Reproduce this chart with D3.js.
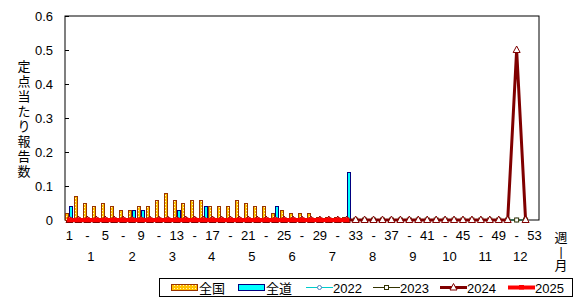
<!DOCTYPE html>
<html>
<head>
<meta charset="utf-8">
<script src="https://cdn.jsdelivr.net/npm/d3@7"></script>
<style>
  body { margin: 0; background: #fff; }
  text { font-family: "Liberation Sans", "Noto Sans CJK JP", sans-serif; font-size: 13px; fill: #000; }
</style>
</head>
<body>
<div id="chart"></div>
<script>
const weeks = d3.range(1, 54);
// 全国 (national) and 全道 (Hokkaido) per-sentinel reports, weeks 1-32 of 2025
const national = [0.02, 0.07, 0.05, 0.04, 0.05, 0.04, 0.03, 0.03, 0.04, 0.04, 0.06, 0.08, 0.06, 0.05, 0.06, 0.06,
  0.04, 0.04, 0.04, 0.06, 0.05, 0.04, 0.04, 0.02, 0.03, 0.02, 0.02, 0.02, 0.01, 0.01, 0.01, 0.01];
const hokkaido = [0.04, 0, 0, 0, 0, 0, 0, 0.03, 0.03, 0, 0, 0, 0.03, 0, 0, 0.04,
  0, 0, 0, 0, 0, 0, 0, 0.04, 0, 0, 0, 0, 0, 0, 0, 0.14];
const y2022 = [0, 0, 0, 0, 0, 0, 0, 0, 0, 0, 0, 0, 0, 0, 0, 0, 0, 0, 0, 0, 0, 0, 0, 0, 0, 0,
  0, 0, 0, 0, 0, 0, 0, 0, 0, 0, 0, 0, 0, 0, 0, 0, 0, 0, 0, 0, 0, 0, 0, 0, 0, 0];
const y2023 = [0, 0, 0, 0, 0, 0, 0, 0, 0, 0, 0, 0, 0, 0, 0, 0, 0, 0, 0, 0, 0, 0, 0, 0, 0, 0,
  0, 0, 0, 0, 0, 0, 0, 0, 0, 0, 0, 0, 0, 0, 0, 0, 0, 0, 0, 0, 0, 0, 0, 0, 0, 0];
const y2024 = [0, 0, 0, 0, 0, 0, 0, 0, 0, 0, 0, 0, 0, 0, 0, 0, 0, 0, 0, 0, 0, 0, 0, 0, 0, 0,
  0, 0, 0, 0, 0, 0, 0, 0, 0, 0, 0, 0, 0, 0, 0, 0, 0, 0, 0, 0, 0, 0, 0, 0, 0.5, 0];
const y2025 = [0, 0, 0, 0, 0, 0, 0, 0, 0, 0, 0, 0, 0, 0, 0, 0, 0, 0, 0, 0, 0, 0, 0, 0, 0, 0,
  0, 0, 0, 0, 0, 0];
const yTicks = [0, 0.1, 0.2, 0.3, 0.4, 0.5, 0.6];
const weekLabels = ["1", "-", "5", "-", "9", "-", "13", "-", "17", "-", "21", "-", "25", "-", "29", "-",
  "33", "-", "37", "-", "41", "-", "45", "-", "49", "-", "53"];
const months = ["1", "2", "3", "4", "5", "6", "7", "8", "9", "10", "11", "12"];
const monthPos = [3.4, 8.0, 12.5, 16.9, 21.4, 25.9, 30.4, 34.9, 39.4, 43.5, 47.5, 51.4];
const yLabel = "定点当たり報告数";

const W = 579, H = 299;
const m = { left: 65, right: 539, top: 16, bottom: 220 };

const svg = d3.select("#chart").append("svg").attr("width", W).attr("height", H);

const x = d3.scaleBand().domain(weeks).range([m.left, m.right]).padding(0);
const xc = w => x(w) + x.bandwidth() / 2;
const xw = d3.scaleLinear().domain([1, 53]).range([xc(1), xc(53)]);
const y = d3.scaleLinear().domain([0, 0.6]).range([m.bottom, m.top]);
const sub = d3.scaleBand().domain(["n", "h"]).range([0, x.bandwidth()]).paddingOuter(0.05).paddingInner(0);

// dotted pattern for 全国 bars
const defs = svg.append("defs");
const pat = defs.append("pattern").attr("id", "dots").attr("patternUnits", "userSpaceOnUse")
  .attr("width", 3).attr("height", 3);
pat.append("rect").attr("width", 3).attr("height", 3).attr("fill", "#FFC000").attr("shape-rendering", "crispEdges");
pat.append("rect").attr("width", 1).attr("height", 1).attr("fill", "#FFF4C8").attr("shape-rendering", "crispEdges");

// frame
svg.append("rect").attr("x", m.left).attr("y", m.top)
  .attr("width", m.right - m.left).attr("height", m.bottom - m.top)
  .attr("fill", "none").attr("stroke", "#000").attr("stroke-width", 1);

// y axis
const yAxis = svg.append("g").attr("transform", `translate(${m.left},0)`)
  .call(d3.axisLeft(y).tickValues(yTicks).tickSizeInner(-4).tickSizeOuter(0).tickPadding(12)
    .tickFormat(d => d === 0 ? "0" : d3.format(".1f")(d)));
yAxis.select(".domain").remove();
yAxis.selectAll("line").attr("stroke", "#000");
yAxis.selectAll("text").style("font-size", "13px").attr("font-family", null);

// bars
svg.append("g").attr("shape-rendering", "crispEdges").selectAll("rect")
  .data(national.map((v, i) => ({ w: i + 1, v })).filter(d => d.v > 0))
  .join("rect")
  .attr("x", d => Math.round(x(d.w) + sub("n")) + 0.5).attr("width", 3)
  .attr("y", d => Math.round(y(d.v)) + 0.5).attr("height", d => Math.round(y(0) - y(d.v)))
  .attr("fill", "url(#dots)").attr("stroke", "#993300").attr("stroke-width", 1);
svg.append("g").attr("shape-rendering", "crispEdges").selectAll("rect")
  .data(hokkaido.map((v, i) => ({ w: i + 1, v })).filter(d => d.v > 0))
  .join("rect")
  .attr("x", d => Math.round(x(d.w) + sub("h")) + 0.5).attr("width", 3)
  .attr("y", d => Math.round(y(d.v)) + 0.5).attr("height", d => Math.round(y(0) - y(d.v)))
  .attr("fill", "#00FFFF").attr("stroke", "#000080").attr("stroke-width", 1);

const line = d3.line().x((d, i) => xc(i + 1)).y(d => y(d));

function series(data, color, width, marker) {
  const g = svg.append("g");
  g.append("path").datum(data).attr("d", line)
    .attr("fill", "none").attr("stroke", color).attr("stroke-width", width);
  g.selectAll(".mk").data(data).join(marker.tag)
    .each(function (d, i) { marker.draw(d3.select(this), xc(i + 1), y(d)); });
}

const circleMk = { tag: "circle", draw: (s, cx, cy) => s.attr("cx", cx).attr("cy", cy).attr("r", 2)
  .attr("fill", "#fff").attr("stroke", "#4F81BD").attr("stroke-width", 1) };
const squareMk = { tag: "rect", draw: (s, cx, cy) => s.attr("x", cx - 2).attr("y", cy - 2)
  .attr("width", 4).attr("height", 4).attr("fill", "#fff").attr("stroke", "#333300").attr("stroke-width", 1) };
const triMk = { tag: "path", draw: (s, cx, cy) => s.attr("d", `M${cx},${cy - 4}L${cx + 3.5},${cy + 2.5}L${cx - 3.5},${cy + 2.5}Z`)
  .attr("fill", "#fff").attr("stroke", "#800000").attr("stroke-width", 1) };
const redMk = { tag: "rect", draw: (s, cx, cy) => s.attr("x", cx - 2.5).attr("y", cy - 2.5)
  .attr("width", 5).attr("height", 4.5).attr("fill", "#FF0000") };

series(y2022, "#00CCCC", 1, circleMk);
series(y2023, "#333300", 1, squareMk);
series(y2024, "#800000", 3, triMk);
series(y2025, "#FF0000", 4, redMk);

// x labels
svg.append("g").selectAll("text").data(weekLabels).join("text")
  .attr("x", (d, i) => xc(1 + i * 2)).attr("y", 240)
  .attr("text-anchor", "middle").text(d => d);
svg.append("g").selectAll("text").data(months).join("text")
  .attr("x", (d, i) => xw(monthPos[i])).attr("y", 261)
  .attr("text-anchor", "middle").text(d => d);
svg.append("text").attr("x", 561).attr("y", 242).attr("text-anchor", "middle").text("週");
svg.append("text").attr("x", 561).attr("y", 256).attr("text-anchor", "middle").text("|").style("font-size", "12px");
svg.append("text").attr("x", 561).attr("y", 270).attr("text-anchor", "middle").text("月");

// y label, stacked vertically
svg.append("g").selectAll("text").data(yLabel.split("")).join("text")
  .attr("x", 24).attr("y", (d, i) => 71 + i * 15)
  .attr("text-anchor", "middle").text(d => d);

// legend
const lg = svg.append("g");
lg.append("rect").attr("x", 159.5).attr("y", 278.5).attr("width", 413).attr("height", 18)
  .attr("fill", "#fff").attr("stroke", "#000");
const ly = 287.5;
lg.append("rect").attr("x", 171.5).attr("y", ly - 3).attr("width", 26).attr("height", 6)
  .attr("fill", "url(#dots)").attr("stroke", "#993300").attr("shape-rendering", "crispEdges");
lg.append("text").attr("x", 199).attr("y", ly + 5).text("全国");
lg.append("rect").attr("x", 238.5).attr("y", ly - 3).attr("width", 26).attr("height", 6)
  .attr("fill", "#00FFFF").attr("stroke", "#000080").attr("shape-rendering", "crispEdges");
lg.append("text").attr("x", 266).attr("y", ly + 5).text("全道");
const legLines = [
  { x: 306, label: "2022", color: "#00CCCC", w: 1, mk: circleMk },
  { x: 373, label: "2023", color: "#333300", w: 1, mk: squareMk },
  { x: 440, label: "2024", color: "#800000", w: 3, mk: triMk },
  { x: 508, label: "2025", color: "#FF0000", w: 4, mk: redMk }
];
legLines.forEach(d => {
  lg.append("line").attr("x1", d.x).attr("x2", d.x + 27).attr("y1", ly).attr("y2", ly)
    .attr("stroke", d.color).attr("stroke-width", d.w);
  d.mk.draw(lg.append(d.mk.tag), d.x + 13.5, ly);
  lg.append("text").attr("x", d.x + 27).attr("y", ly + 5).text(d.label);
});
</script>
</body>
</html>
